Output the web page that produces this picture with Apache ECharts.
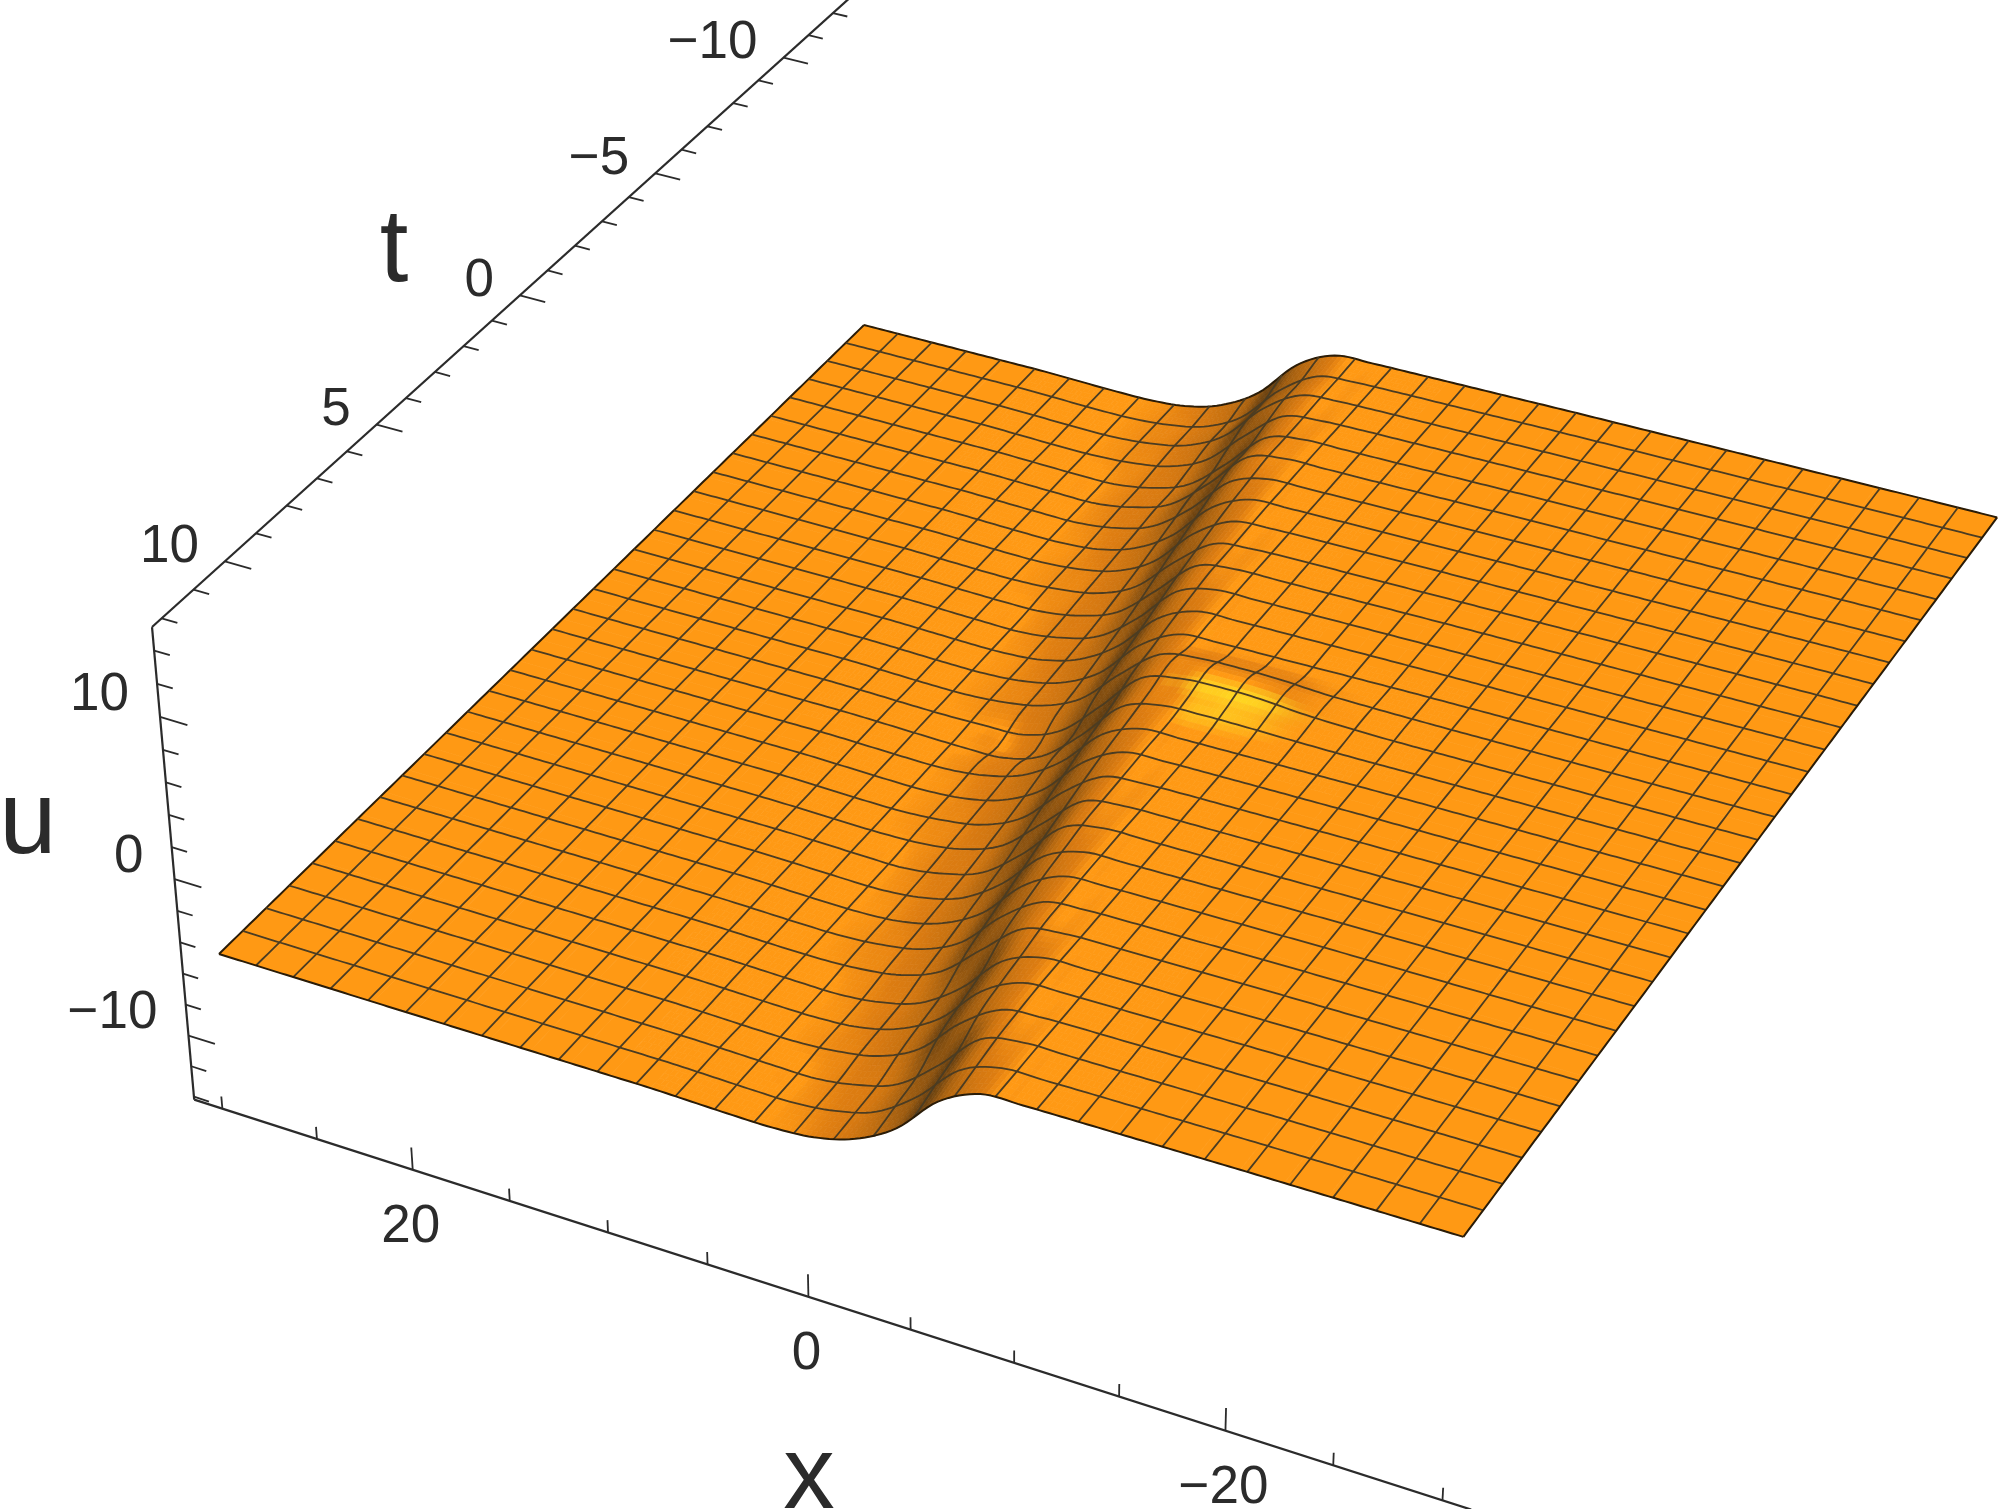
<!DOCTYPE html>
<html>
<head>
<meta charset="utf-8">
<style>
  html, body { margin: 0; padding: 0; background: #fff; }
  #chart { width: 2000px; height: 1509px; }
</style>
<script src="https://cdn.jsdelivr.net/npm/echarts@6/dist/echarts.min.js"></script>
</head>
<body>
<div id="chart"></div>
<script>
// surface nodes: xValues[j] runs 30 .. -30, tValues[i] runs -12 .. 12, uRows[i][j]
const xValues = [30,28,26,24,22,20,18,16,14,12,10,8,6,4,2,0,-2,-4,-6,-8,-10,-12,-14,-16,-18,-20,-22,-24,-26,-28,-30];
const tValues = [-12,-11.2,-10.4,-9.6,-8.8,-8,-7.2,-6.4,-5.6,-4.8,-4,-3.2,-2.4,-1.6,-0.8,0,0.8,1.6,2.4,3.2,4,4.8,5.6,6.4,7.2,8,8.8,9.6,10.4,11.2,12];
const uRows = [
  [-4.75,-4.75,-4.75,-4.75,-4.75,-4.75,-4.8,-4.85,-4.85,-4.65,-3.95,-2.5,-0.05,1.2,1.3,1.33,1.35,1.37,1.39,1.41,1.42,1.43,1.44,1.45,1.46,1.47,1.48,1.49,1.5,1.5,1.5],
  [-4.75,-4.75,-4.75,-4.75,-4.75,-4.75,-4.8,-4.85,-4.85,-4.65,-4.15,-2.9,-0.5,1.05,1.28,1.33,1.35,1.37,1.39,1.41,1.42,1.43,1.44,1.45,1.46,1.47,1.48,1.49,1.5,1.5,1.5],
  [-4.75,-4.75,-4.75,-4.75,-4.75,-4.75,-4.8,-4.85,-4.85,-4.65,-4.15,-2.9,-0.5,1.05,1.28,1.33,1.35,1.37,1.39,1.41,1.42,1.43,1.44,1.45,1.46,1.47,1.48,1.49,1.5,1.5,1.5],
  [-4.75,-4.75,-4.75,-4.75,-4.75,-4.75,-4.8,-4.85,-4.85,-4.7,-4.3,-3.25,-1.05,0.9,1.26,1.33,1.35,1.37,1.39,1.41,1.42,1.43,1.44,1.45,1.46,1.47,1.48,1.49,1.5,1.5,1.5],
  [-4.75,-4.75,-4.75,-4.75,-4.75,-4.75,-4.75,-4.8,-4.85,-4.85,-4.45,-3.6,-1.6,0.75,1.3,1.32,1.33,1.35,1.37,1.39,1.41,1.42,1.43,1.44,1.45,1.46,1.47,1.48,1.49,1.5,1.5],
  [-4.75,-4.75,-4.75,-4.75,-4.75,-4.75,-4.75,-4.8,-4.85,-4.85,-4.45,-3.6,-1.6,0.75,1.3,1.32,1.33,1.35,1.37,1.39,1.41,1.42,1.43,1.44,1.45,1.46,1.47,1.48,1.49,1.5,1.5],
  [-4.75,-4.75,-4.75,-4.75,-4.75,-4.75,-4.75,-4.8,-4.85,-4.85,-4.55,-3.8,-2.05,0.35,1.25,1.3,1.33,1.35,1.37,1.39,1.41,1.42,1.43,1.44,1.45,1.46,1.47,1.48,1.49,1.5,1.5],
  [-4.75,-4.75,-4.75,-4.75,-4.75,-4.75,-4.75,-4.8,-4.85,-4.85,-4.65,-3.95,-2.5,-0.05,1.2,1.3,1.33,1.35,1.37,1.39,1.41,1.42,1.43,1.44,1.45,1.46,1.47,1.48,1.49,1.5,1.5],
  [-4.75,-4.75,-4.75,-4.75,-4.75,-4.75,-4.75,-4.8,-4.85,-4.85,-4.65,-4.15,-2.9,-0.5,1.05,1.28,1.33,1.35,1.37,1.39,1.41,1.42,1.43,1.44,1.45,1.46,1.47,1.48,1.49,1.5,1.5],
  [-4.75,-4.75,-4.75,-4.75,-4.75,-4.75,-4.75,-4.8,-4.85,-4.85,-4.7,-4.3,-3.25,-1.05,0.9,1.26,1.33,1.35,1.37,1.39,1.41,1.42,1.43,1.44,1.45,1.46,1.47,1.48,1.49,1.5,1.5],
  [-4.75,-4.75,-4.75,-4.75,-4.75,-4.75,-4.75,-4.75,-4.8,-4.85,-4.85,-4.45,-3.6,-1.6,0.75,1.3,1.32,1.33,1.35,1.37,1.39,1.41,1.42,1.43,1.44,1.45,1.46,1.47,1.48,1.49,1.5],
  [-4.75,-4.75,-4.75,-4.75,-4.75,-4.75,-4.75,-4.75,-4.8,-4.85,-4.85,-4.55,-3.8,-2.05,0.35,1.25,1.3,1.33,1.35,1.37,1.39,1.41,1.42,1.43,1.44,1.45,1.46,1.47,1.48,1.49,1.5],
  [-4.75,-4.75,-4.75,-4.75,-4.75,-4.75,-4.75,-4.75,-4.8,-4.85,-4.85,-4.65,-3.95,-2.5,-0.05,1.2,1.3,1.33,1.35,1.37,1.39,1.41,1.42,1.43,1.44,1.45,1.46,1.47,1.48,1.49,1.5],
  [-4.75,-4.75,-4.75,-4.75,-4.75,-4.75,-4.75,-4.75,-4.8,-4.85,-4.85,-4.65,-4.15,-2.9,-0.5,1.05,1.28,1.33,1.35,1.37,1.39,1.41,1.42,1.43,1.44,1.45,1.46,1.47,1.48,1.49,1.5],
  [-4.75,-4.75,-4.75,-4.75,-4.75,-4.75,-4.75,-4.75,-4.8,-4.85,-4.85,-4.7,-4.3,-3.25,-1.05,1.2,1.8,1.9,1.85,1.6,1.5,1.45,1.43,1.43,1.44,1.45,1.46,1.47,1.48,1.49,1.5],
  [-4.75,-4.75,-4.75,-4.75,-4.75,-4.75,-4.75,-4.75,-4.75,-4.8,-4.85,-4.9,-5,-4.1,-1.8,0.75,1.45,1.6,1.58,1.48,1.42,1.39,1.41,1.42,1.43,1.44,1.45,1.46,1.47,1.48,1.49],
  [-4.75,-4.75,-4.75,-4.75,-4.75,-4.75,-4.75,-4.75,-4.75,-4.8,-4.85,-4.85,-4.55,-3.8,-2.05,0.35,1.25,1.3,1.33,1.35,1.37,1.39,1.41,1.42,1.43,1.44,1.45,1.46,1.47,1.48,1.49],
  [-4.75,-4.75,-4.75,-4.75,-4.75,-4.75,-4.75,-4.75,-4.75,-4.8,-4.85,-4.85,-4.65,-3.95,-2.5,-0.05,1.2,1.3,1.33,1.35,1.37,1.39,1.41,1.42,1.43,1.44,1.45,1.46,1.47,1.48,1.49],
  [-4.75,-4.75,-4.75,-4.75,-4.75,-4.75,-4.75,-4.75,-4.75,-4.8,-4.85,-4.85,-4.65,-4.15,-2.9,-0.5,1.05,1.28,1.33,1.35,1.37,1.39,1.41,1.42,1.43,1.44,1.45,1.46,1.47,1.48,1.49],
  [-4.75,-4.75,-4.75,-4.75,-4.75,-4.75,-4.75,-4.75,-4.75,-4.8,-4.85,-4.85,-4.7,-4.3,-3.25,-1.05,0.9,1.26,1.33,1.35,1.37,1.39,1.41,1.42,1.43,1.44,1.45,1.46,1.47,1.48,1.49],
  [-4.75,-4.75,-4.75,-4.75,-4.75,-4.75,-4.75,-4.75,-4.75,-4.75,-4.8,-4.85,-4.85,-4.45,-3.6,-1.6,0.75,1.3,1.32,1.33,1.35,1.37,1.39,1.41,1.42,1.43,1.44,1.45,1.46,1.47,1.48],
  [-4.75,-4.75,-4.75,-4.75,-4.75,-4.75,-4.75,-4.75,-4.75,-4.75,-4.8,-4.85,-4.85,-4.55,-3.8,-2.05,0.35,1.25,1.3,1.33,1.35,1.37,1.39,1.41,1.42,1.43,1.44,1.45,1.46,1.47,1.48],
  [-4.75,-4.75,-4.75,-4.75,-4.75,-4.75,-4.75,-4.75,-4.75,-4.75,-4.8,-4.85,-4.85,-4.65,-3.95,-2.5,-0.05,1.2,1.3,1.33,1.35,1.37,1.39,1.41,1.42,1.43,1.44,1.45,1.46,1.47,1.48],
  [-4.75,-4.75,-4.75,-4.75,-4.75,-4.75,-4.75,-4.75,-4.75,-4.75,-4.8,-4.85,-4.85,-4.65,-4.15,-2.9,-0.5,1.05,1.28,1.33,1.35,1.37,1.39,1.41,1.42,1.43,1.44,1.45,1.46,1.47,1.48],
  [-4.75,-4.75,-4.75,-4.75,-4.75,-4.75,-4.75,-4.75,-4.75,-4.75,-4.8,-4.85,-4.85,-4.7,-4.3,-3.25,-1.05,0.9,1.26,1.33,1.35,1.37,1.39,1.41,1.42,1.43,1.44,1.45,1.46,1.47,1.48],
  [-4.75,-4.75,-4.75,-4.75,-4.75,-4.75,-4.75,-4.75,-4.75,-4.75,-4.75,-4.8,-4.85,-4.85,-4.55,-3.8,-2.05,0.35,1.25,1.3,1.33,1.35,1.37,1.39,1.41,1.42,1.43,1.44,1.45,1.46,1.47],
  [-4.75,-4.75,-4.75,-4.75,-4.75,-4.75,-4.75,-4.75,-4.75,-4.75,-4.75,-4.8,-4.85,-4.85,-4.65,-3.95,-2.5,-0.05,1.2,1.3,1.33,1.35,1.37,1.39,1.41,1.42,1.43,1.44,1.45,1.46,1.47],
  [-4.75,-4.75,-4.75,-4.75,-4.75,-4.75,-4.75,-4.75,-4.75,-4.75,-4.75,-4.8,-4.85,-4.85,-4.65,-4.15,-2.9,-0.5,1.05,1.28,1.33,1.35,1.37,1.39,1.41,1.42,1.43,1.44,1.45,1.46,1.47],
  [-4.75,-4.75,-4.75,-4.75,-4.75,-4.75,-4.75,-4.75,-4.75,-4.75,-4.75,-4.75,-4.8,-4.85,-4.85,-4.45,-3.6,-1.6,0.75,1.3,1.32,1.33,1.35,1.37,1.39,1.41,1.42,1.43,1.44,1.45,1.46],
  [-4.75,-4.75,-4.75,-4.75,-4.75,-4.75,-4.75,-4.75,-4.75,-4.75,-4.75,-4.75,-4.8,-4.85,-4.85,-4.55,-3.8,-2.05,0.35,1.25,1.3,1.33,1.35,1.37,1.39,1.41,1.42,1.43,1.44,1.45,1.46],
  [-4.75,-4.75,-4.75,-4.75,-4.75,-4.75,-4.75,-4.75,-4.75,-4.75,-4.75,-4.75,-4.8,-4.85,-4.85,-4.65,-3.95,-2.5,-0.05,1.2,1.3,1.33,1.35,1.37,1.39,1.41,1.42,1.43,1.44,1.45,1.46]
];
const meshCells = 31;
const xTicks = [30,25,20,15,10,5,0,-5,-10,-15,-20,-25,-30];
const xLabels = [20,0,-20];
const tTicks = [12,11,10,9,8,7,6,5,4,3,2,1,0,-1,-2,-3,-4,-5,-6,-7,-8,-9,-10,-11,-12];
const tLabels = [10,5,0,-5,-10];
const uTicks = [14,12,10,8,6,4,2,0,-2,-4,-6,-8,-10,-12,-14];
const uLabels = [10,0,-10];

// box limits of the axes
const boxX = 31.5, boxT = 12.3, boxUMin = -14.19, boxUMax = 15.4;
const uLow = -4.75;

// camera: plane u = uLow through the four surface corners, u direction runs to a far vanishing point
const corners = [[864,325],[1987,614],[1458,1339],[219,954]];
const vanish = [995,10070];
const [[x0,y0],[x1,y1],[x2,y2],[x3,y3]] = corners;
const sx = x0-x1+x2-x3, sy = y0-y1+y2-y3, dx1 = x1-x2, dx2 = x3-x2, dy1 = y1-y2, dy2 = y3-y2;
const den = dx1*dy2-dx2*dy1;
const g = (sx*dy2-dx2*sy)/den, h = (dx1*sy-sx*dy1)/den;
const a = x1-x0+g*x1, b = x3-x0+h*x3, d = y1-y0+g*y1, e = y3-y0+h*y3;
const k = -15.67*(1+h)/(vanish[1]-954);

function project(x, t, u) {
  const p = (30-x)/60, q = (t+12)/24, w = k*(u-uLow);
  const W = g*p+h*q+1+w;
  return [(a*p+b*q+x0+w*vanish[0])/W, (d*p+e*q+y0+w*vanish[1])/W];
}

function cr(p0, p1, p2, p3, s) {
  return p1+0.5*s*(p2-p0+s*(2*p0-5*p1+4*p2-p3+s*(3*(p1-p2)+p3-p0)));
}
const clampIdx = (n) => Math.max(0, Math.min(30, n));
// smooth reading between the nodes, used only for drawing
function uAt(fi, fj) {
  const i = Math.min(29, Math.floor(fi)), j = Math.min(29, Math.floor(fj));
  const si = fi-i, sj = fj-j, vals = [];
  for (let r = -1; r <= 2; r++) {
    const row = uRows[clampIdx(i+r)];
    vals.push(cr(row[clampIdx(j-1)], row[j], row[clampIdx(j+1)], row[clampIdx(j+2)], sj));
  }
  return cr(vals[0], vals[1], vals[2], vals[3], si);
}
function nodePoint(fi, fj) {
  return project(30-2*fj, -12+0.8*fi, uAt(fi, fj));
}

const mix = (c1, c2, m) => [c1[0]+(c2[0]-c1[0])*m, c1[1]+(c2[1]-c1[1])*m, c1[2]+(c2[2]-c1[2])*m];
const clamp01 = (v) => Math.max(0, Math.min(1, v));
function shade(fi, fj) {
  const eps = 0.15;
  const gx = (uAt(fi, Math.min(30, fj+eps))-uAt(fi, Math.max(0, fj-eps)))/(4*eps);
  const gt = (uAt(Math.min(30, fi+eps), fj)-uAt(Math.max(0, fi-eps), fj))/(1.6*eps);
  const side = (gt+0.5*gx)*(1-clamp01(gx/0.3));
  let c = [255,153,20];
  c = mix(c, [224,124,16], Math.pow(clamp01((Math.abs(gx)-0.03)/0.25), 0.7)*0.85);
  if (gx > 0) c = mix(c, [92,58,16], Math.pow(clamp01(gx/1.4), 1.7)*0.95);
  if (side < 0 && uAt(fi, fj) > 0) c = mix(c, [255,214,34], clamp01((-side-0.15)/0.4));
  if (side > 0) c = mix(c, [214,116,16], clamp01((side-0.15)/0.4)*0.55);
  return 'rgb('+Math.round(c[0])+','+Math.round(c[1])+','+Math.round(c[2])+')';
}

const cells = [];
for (let i = 0; i < tValues.length-1; i++) {
  for (let j = 0; j < xValues.length-1; j++) cells.push([i, j]);
}
function cellRange(i, j) {
  let lo = Infinity, hi = -Infinity;
  for (let r = i-1; r <= i+2; r++) {
    for (let s = j-1; s <= j+2; s++) {
      const v = uRows[clampIdx(r)][clampIdx(s)];
      lo = Math.min(lo, v);
      hi = Math.max(hi, v);
    }
  }
  return hi-lo;
}
function renderCell(params, api) {
  const i = api.value(0), j = api.value(1), kids = [];
  const flat = cellRange(i, j) < 0.08;
  const nt = flat ? 1 : 5, nx = flat ? 1 : 8;
  for (let m = 0; m < nt; m++) {
    for (let n = 0; n < nx; n++) {
      const fi0 = i+m/nt, fi1 = i+(m+1)/nt, fj0 = j+n/nx, fj1 = j+(n+1)/nx;
      const pts = [[fi0,fj0],[fi0,fj1],[fi1,fj1],[fi1,fj0]].map((f) => api.coord(nodePoint(f[0], f[1])));
      const col = shade((fi0+fi1)/2, (fj0+fj1)/2);
      kids.push({ type: 'polygon', shape: { points: pts }, style: { fill: col, stroke: col, lineWidth: 0.7 } });
    }
  }
  return { type: 'group', children: kids };
}

// mesh lines: [0, n] runs along a row, [1, n] along a column, n = 0 .. meshCells
const meshLines = [];
for (let n = 0; n <= meshCells; n++) {
  meshLines.push([0, n]);
  meshLines.push([1, n]);
}
function renderMesh(params, api) {
  const kind = api.value(0), n = api.value(1), f = n*30/meshCells, pts = [];
  if (kind === 0) {
    for (let s = 0; s <= 240; s++) pts.push(api.coord(nodePoint(f, s/8)));
  } else {
    for (let s = 0; s <= 120; s++) pts.push(api.coord(nodePoint(s/4, f)));
  }
  const edge = n === 0 || n === meshCells;
  return { type: 'polyline', shape: { points: pts }, style: { fill: 'none', stroke: edge ? '#2a1c08' : '#4b3c22', lineWidth: edge ? 2 : 1.8, lineJoin: 'round' } };
}

// axis lines and tick marks as pairs of box points
const segs = [
  [boxX,boxT,boxUMin, -31.3,boxT,boxUMin],
  [boxX,boxT,boxUMax, boxX,-13.5,boxUMax],
  [boxX,boxT,boxUMin, boxX,boxT,boxUMax]
];
xTicks.forEach((v) => {
  const len = xLabels.includes(v) ? 1.45 : 0.8;
  segs.push([v,boxT,boxUMin, v,boxT,boxUMin+len]);
});
tTicks.forEach((v) => {
  const len = tLabels.includes(v) ? 1.35 : 0.8;
  segs.push([boxX,v,boxUMax, boxX-len,v,boxUMax]);
});
uTicks.forEach((v) => {
  const len = uLabels.includes(v) ? 1.4 : 0.8;
  segs.push([boxX,boxT,v, boxX-len,boxT,v]);
});
function renderSeg(params, api) {
  const p = api.coord(project(api.value(0), api.value(1), api.value(2)));
  const q = api.coord(project(api.value(3), api.value(4), api.value(5)));
  return { type: 'line', shape: { x1: p[0], y1: p[1], x2: q[0], y2: q[1] }, style: { stroke: '#2b2b2b', lineWidth: params.dataIndex < 3 ? 2.2 : 1.8 } };
}

const minus = (v) => String(v).replace('-', '\u2212');
const labelItems = [];
xLabels.forEach((v) => { const p = project(v, boxT, boxUMin); labelItems.push({ value: [p[0]-2, p[1]+58], text: minus(v), align: 'center', size: 53 }); });
tLabels.forEach((v) => { const p = project(boxX, v, boxUMax); labelItems.push({ value: [p[0]-26, p[1]-14], text: minus(v), align: 'right', size: 53 }); });
uLabels.forEach((v) => { const p = project(boxX, boxT, v); labelItems.push({ value: [p[0]-31, p[1]-22], text: minus(v), align: 'right', size: 53 }); });
labelItems.push({ value: [394, 253], text: 't', align: 'center', size: 103 });
labelItems.push({ value: [28, 825], text: 'u', align: 'center', size: 103 });
labelItems.push({ value: [809, 1480], text: 'x', align: 'center', size: 103 });
function renderLabel(params, api) {
  const item = labelItems[params.dataIndex], p = api.coord([api.value(0), api.value(1)]);
  return { type: 'text', x: p[0], y: p[1], style: { text: item.text, fill: '#2b2b2b', font: item.size+'px "Liberation Sans"', align: item.align, verticalAlign: 'middle' } };
}

const chart = echarts.init(document.getElementById('chart'), null, { renderer: 'canvas' });
chart.setOption({
  animation: false,
  backgroundColor: '#fff',
  grid: { left: 0, right: 0, top: 0, bottom: 0 },
  xAxis: { type: 'value', min: 0, max: 2000, show: false },
  yAxis: { type: 'value', min: 0, max: 1509, inverse: true, show: false },
  series: [
    { type: 'custom', name: 'axes', coordinateSystem: 'cartesian2d', clip: false, silent: true, progressive: 0, data: segs, renderItem: renderSeg },
    { type: 'custom', name: 'surface', coordinateSystem: 'cartesian2d', clip: false, silent: true, progressive: 0, data: cells, renderItem: renderCell },
    { type: 'custom', name: 'mesh', coordinateSystem: 'cartesian2d', clip: false, silent: true, progressive: 0, data: meshLines, renderItem: renderMesh },
    { type: 'custom', name: 'labels', coordinateSystem: 'cartesian2d', clip: false, silent: true, progressive: 0, data: labelItems, renderItem: renderLabel }
  ]
});
</script>
</body>
</html>
